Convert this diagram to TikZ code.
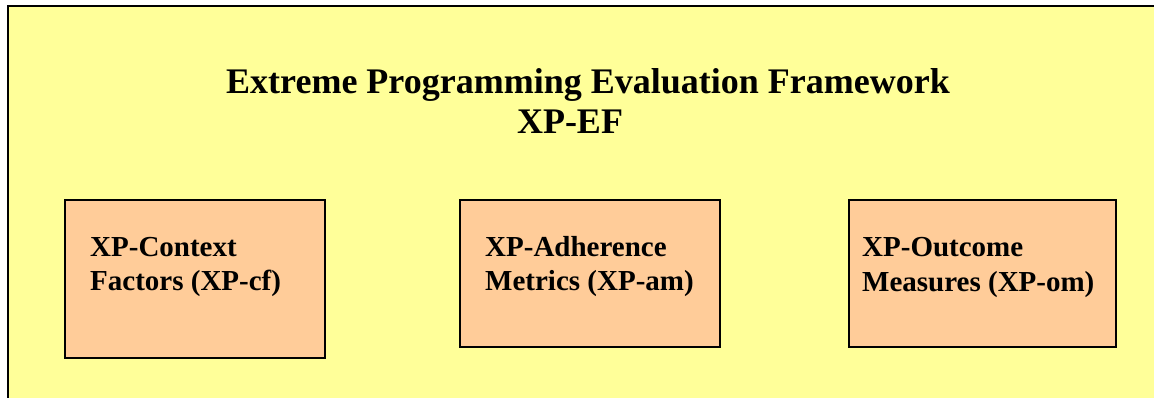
\documentclass[tikz,border=0pt]{standalone}
\usepackage{fontspec}
\setmainfont{Liberation Serif}
\usetikzlibrary{positioning}
\definecolor{paleyellow}{RGB}{255,255,153}
\definecolor{peach}{RGB}{255,204,153}

\begin{document}
\begin{tikzpicture}[x=1pt, y=-1pt,
    partbox/.style={draw=black, line width=2pt, fill=peach, rectangle, inner sep=0pt, anchor=north west},
    parttext/.style={anchor=base west, inner sep=0pt, font=\fontsize{29}{34}\selectfont\bfseries},
    titletext/.style={anchor=base, inner sep=0pt, font=\fontsize{36}{40}\selectfont\bfseries}]
  \useasboundingbox (0,0) rectangle (1154,398);
  % frame runs off the right and bottom edges
  \fill[paleyellow] (8,6) rectangle (1154,398);
  \draw[line width=2pt] (8,398) -- (8,6) -- (1154,6);
  % title
  \node[titletext] (title) at (588,94) {Extreme Programming Evaluation Framework};
  \node[titletext] (abbrev) at (570,134) {XP-EF};
  % the three parts
  \node[partbox, minimum width=260pt, minimum height=158pt] (cf) at (64,199) {};
  \node[partbox, minimum width=260pt, minimum height=147pt] (am) at (459,199) {};
  \node[partbox, minimum width=267pt, minimum height=147pt] (om) at (848,199) {};
  \node[parttext] (cf1) at (90,256) {XP-Context};
  \node[parttext] (cf2) at (90,290) {Factors (XP-cf)};
  \node[parttext] (am1) at (485,256) {XP-Adherence};
  \node[parttext] (am2) at (485,290) {Metrics (XP-am)};
  \node[parttext] (om1) at (862,257) {XP-Outcome};
  \node[parttext] (om2) at (862,291) {Measures (XP-om)};
\end{tikzpicture}
\end{document}
